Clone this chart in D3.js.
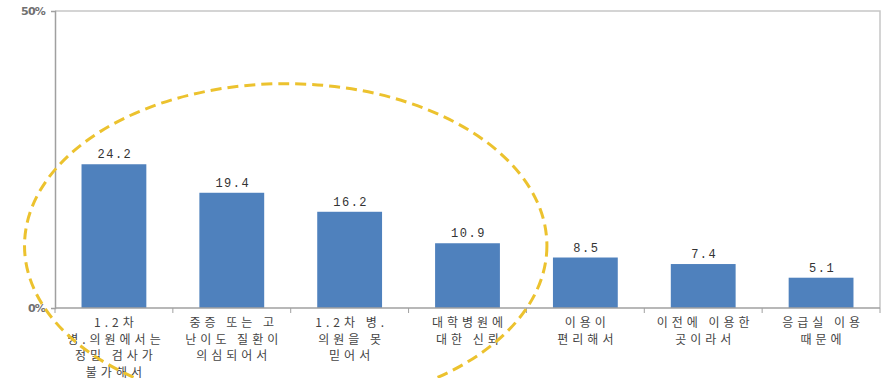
<!DOCTYPE html>
<html>
<head>
<meta charset="utf-8">
<script src="https://cdn.jsdelivr.net/npm/d3@7"></script>
<style>
  body { margin: 0; background: #fff; }
  svg { display: block; }
</style>
</head>
<body>
<div id="chart"></div>
<script>
// data
const categories = [
    ["1.2차", "병.의원에서는", "정밀 검사가", "불가해서"],
    ["중증 또는 고", "난이도 질환이", "의심되어서"],
    ["1.2차 병.", "의원을 못", "믿어서"],
    ["대학병원에", "대한 신뢰"],
    ["이용이", "편리해서"],
    ["이전에 이용한", "곳이라서"],
    ["응급실 이용", "때문에"]
];
const values = [24.2, 19.4, 16.2, 10.9, 8.5, 7.4, 5.1];
const yTicks = [0, 50];
const highlighted = 4; // first four bars are circled

const width = 889, height = 378;
const margin = {top: 11, right: 9, bottom: 70, left: 55};
const innerW = width - margin.left - margin.right;
const innerH = height - margin.top - margin.bottom;

const svg = d3.select("#chart").append("svg")
    .attr("width", width)
    .attr("height", height);

const chart = svg.append("g")
    .attr("transform", `translate(${margin.left},${margin.top})`);

const idx = d3.range(values.length);
const xScale = d3.scaleBand()
    .domain(idx)
    .range([0, innerW])
    .paddingInner(0.45)
    .paddingOuter(0.225);

const yScale = d3.scaleLinear()
    .domain([0, 50])
    .range([innerH, 0]);

// frame top + right
chart.append("path")
    .attr("d", `M0,0H${innerW}V${innerH}`)
    .attr("fill", "none")
    .attr("stroke", "#c6c6c6")
    .attr("stroke-width", 1.5);

// bars
chart.selectAll(".bar")
    .data(values)
    .join("rect")
    .attr("class", "bar")
    .attr("x", (d, i) => xScale(i))
    .attr("y", d => yScale(d))
    .attr("width", xScale.bandwidth())
    .attr("height", d => innerH - yScale(d))
    .attr("fill", "#4f81bd");

// value labels
chart.selectAll(".val")
    .data(values)
    .join("text")
    .attr("class", "val")
    .attr("x", (d, i) => xScale(i) + xScale.bandwidth() / 2 + 1)
    .attr("y", d => yScale(d) - 6)
    .attr("text-anchor", "middle")
    .style("font-family", "'Liberation Mono', 'DejaVu Sans Mono', monospace")
    .style("font-size", "12px")
    .style("letter-spacing", "1.5px")
    .style("fill", "#333")
    .text(d => d.toFixed(1));

// y axis
const yAxis = d3.axisLeft(yScale)
    .tickValues(yTicks)
    .tickSize(4)
    .tickFormat(d => d + "%");
const gy = chart.append("g").attr("class", "y axis").call(yAxis);
gy.select(".domain").attr("stroke", "#a0a0a0").attr("stroke-width", 1.5);
gy.selectAll(".tick line").attr("stroke", "#a0a0a0");
gy.selectAll(".tick text")
    .attr("x", -10)
    .style("font-family", "'DejaVu Sans', sans-serif")
    .style("font-size", "11px")
    .style("font-weight", "bold")
    .style("letter-spacing", "-0.8px")
    .style("fill", "#707070");

// x axis line with ticks at category boundaries
chart.append("line")
    .attr("x1", 0).attr("x2", innerW)
    .attr("y1", innerH).attr("y2", innerH)
    .attr("stroke", "#a0a0a0")
    .attr("stroke-width", 1.5);
const step = xScale.step();
const bounds = d3.range(values.length + 1).map(i => xScale(0) - step * xScale.paddingInner() / 2 + i * step);
chart.selectAll(".xtick")
    .data(bounds)
    .join("line")
    .attr("class", "xtick")
    .attr("x1", d => d).attr("x2", d => d)
    .attr("y1", innerH).attr("y2", innerH + 5)
    .attr("stroke", "#a0a0a0");

// category labels
const ls = 4;
const lab = chart.selectAll(".cat")
    .data(categories)
    .join("text")
    .attr("class", "cat")
    .attr("text-anchor", "middle")
    .style("font-family", "'Noto Sans CJK KR', sans-serif")
    .style("font-size", "12px")
    .style("letter-spacing", ls + "px")
    .style("fill", "#444");
lab.selectAll("tspan")
    .data((d, i) => d.map(t => ({t, i})))
    .join("tspan")
    .attr("x", d => xScale(d.i) + xScale.bandwidth() / 2 + ls / 2)
    .attr("y", (d, j) => innerH + 19 + j * 16.5)
    .text(d => d.t);

// dashed ellipse around the first four bars
const left = xScale(0) - 57;
const right = xScale(highlighted - 1) + xScale.bandwidth() + 47;
chart.append("ellipse")
    .attr("cx", (left + right) / 2)
    .attr("cy", yScale(10.5))
    .attr("rx", (right - left) / 2)
    .attr("ry", 162)
    .attr("fill", "none")
    .attr("stroke", "#ecc22e")
    .attr("stroke-width", 3)
    .attr("stroke-dasharray", "11,6");
</script>
</body>
</html>
